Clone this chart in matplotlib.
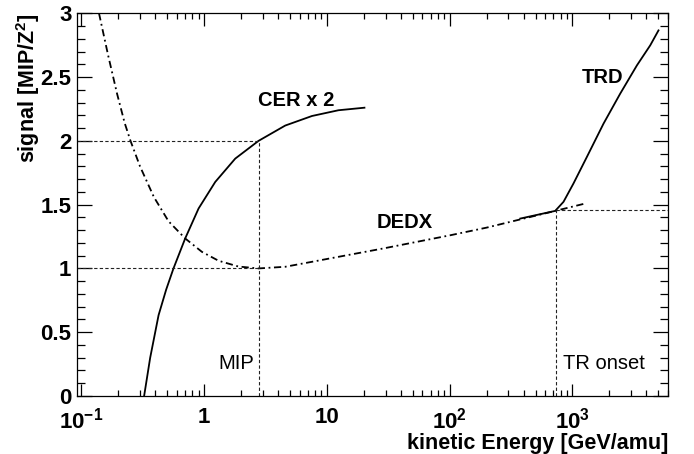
import numpy as np
import matplotlib
matplotlib.use("Agg")
import matplotlib.pyplot as plt
from matplotlib.ticker import FixedLocator, FixedFormatter, MultipleLocator, LogLocator, NullFormatter

plt.rcParams['font.family'] = ['Liberation Sans', 'DejaVu Sans']
plt.rcParams['mathtext.fontset'] = 'custom'
plt.rcParams['mathtext.rm'] = 'Liberation Sans:bold'
plt.rcParams['mathtext.it'] = 'Liberation Sans:bold'
plt.rcParams['mathtext.bf'] = 'Liberation Sans:bold'

# values (kinetic energy GeV/amu, signal MIP/Z^2)
dedx_e = [0.139, 0.165, 0.195, 0.225, 0.251, 0.30, 0.389, 0.512, 0.70, 0.958, 1.31,
          1.90, 2.77, 4.57, 7.55, 12.4, 21.8, 28.9, 55.0, 101, 200, 353, 724, 1270]
dedx_s = [3.00, 2.67, 2.37, 2.14, 2.00, 1.80, 1.56, 1.37, 1.235, 1.13, 1.06,
          1.015, 1.000, 1.013, 1.052, 1.091, 1.135, 1.157, 1.21, 1.26, 1.32, 1.378, 1.451, 1.509]

cer_e = [0.324, 0.363, 0.425, 0.49, 0.562, 0.70, 0.90, 1.23, 1.79, 2.77,
         4.57, 7.55, 12.4, 20.2]
cer_s = [0.0, 0.30, 0.634, 0.834, 1.0, 1.235, 1.47, 1.678, 1.861, 2.0,
         2.12, 2.195, 2.24, 2.26]

trd_e = [376, 723, 845, 1019, 1310, 1790, 2447, 3350, 4300, 5020]
trd_s = [1.391, 1.451, 1.522, 1.666, 1.874, 2.135, 2.37, 2.592, 2.749, 2.866]

mip_e = 2.77
mip_s = [1.0, 2.0]
tr_onset_e = 730
tr_onset_s = 1.455

x_ticks = [0.1, 1, 10, 100, 1000]
x_labels = ['10$^{-1}$', '1', '10', '10$^{2}$', '10$^{3}$']
y_ticks = [0, 0.5, 1, 1.5, 2, 2.5, 3]
y_labels = ['0', '0.5', '1', '1.5', '2', '2.5', '3']

xmin, xmax = 0.092, 6000

fig = plt.figure(figsize=(6.94, 4.54), dpi=100)
ax = fig.add_axes([77 / 694, 1 - 396 / 454, (668 - 77) / 694, (396 - 13.3) / 454])

lw = 1.3
ax.plot(dedx_e, dedx_s, color='black', lw=lw, dashes=(4, 2, 1, 2))
ax.plot(cer_e, cer_s, color='black', lw=lw)
ax.plot(trd_e, trd_s, color='black', lw=lw)

# guide lines
gkw = dict(color='#222222', lw=0.8, dashes=(3, 2))
for s in mip_s:
    ax.plot([xmin, mip_e], [s, s], **gkw)
ax.plot([mip_e, mip_e], [0, max(mip_s)], **gkw)
ax.plot([tr_onset_e, tr_onset_e], [0, tr_onset_s], **gkw)
ax.plot([tr_onset_e, xmax], [tr_onset_s, tr_onset_s], **gkw)

ax.set_xscale('log')
ax.set_xlim(xmin, xmax)
ax.set_ylim(0, 3)

ax.xaxis.set_major_locator(FixedLocator(x_ticks))
ax.xaxis.set_major_formatter(FixedFormatter(x_labels))
ax.xaxis.set_minor_locator(LogLocator(base=10, subs=np.arange(2, 10)))
ax.xaxis.set_minor_formatter(NullFormatter())
ax.yaxis.set_major_locator(FixedLocator(y_ticks))
ax.yaxis.set_major_formatter(FixedFormatter(y_labels))
ax.yaxis.set_minor_locator(MultipleLocator(0.1))

ax.tick_params(axis='x', which='major', direction='in', length=9, width=0.9,
               top=True, pad=8, labelsize=16)
ax.tick_params(axis='x', which='minor', direction='in', length=4.5, width=0.9, top=True)
ax.tick_params(axis='y', which='major', direction='in', length=11, width=0.9,
               right=True, pad=4, labelsize=16)
ax.tick_params(axis='y', which='minor', direction='in', length=5.5, width=0.9, right=True)
for lab in ax.get_xticklabels() + ax.get_yticklabels():
    lab.set_fontweight('bold')
for sp in ax.spines.values():
    sp.set_linewidth(0.9)

ax.set_xlabel('kinetic Energy [GeV/amu]', fontsize=15.5, fontweight='bold', loc='right', labelpad=0)
ax.set_ylabel('signal [MIP/Z$^{2}$]', fontsize=15.5, fontweight='bold', loc='top', labelpad=-1)

ax.text(2.75, 2.318, 'CER x 2', fontsize=14.5, fontweight='bold', ha='left', va='center')
ax.text(25.2, 1.359, 'DEDX', fontsize=14.5, fontweight='bold', ha='left', va='center')
ax.text(1193, 2.494, 'TRD', fontsize=14.5, fontweight='bold', ha='left', va='center')
ax.text(2.56, 0.256, 'MIP', fontsize=14.5, ha='right', va='center')
ax.text(835, 0.256, 'TR onset', fontsize=14.5, ha='left', va='center')

fig.savefig('out.png', dpi=100)
